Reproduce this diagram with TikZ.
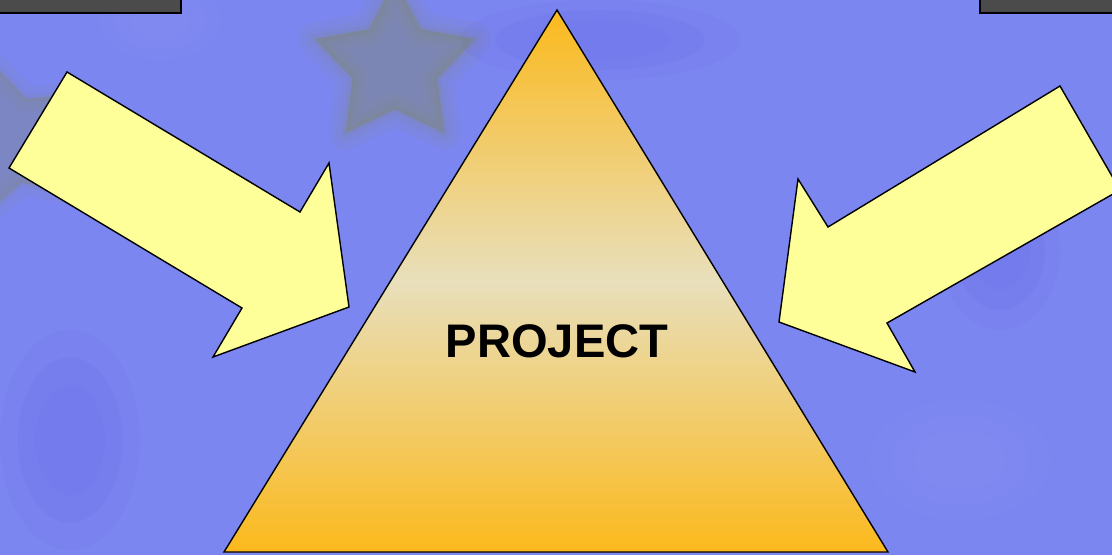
\documentclass[tikz,border=0pt]{standalone}
\usepackage{fontspec}
\setmainfont{Liberation Sans}
\usetikzlibrary{shapes.geometric}

\definecolor{bgblue}{RGB}{124,134,240}
\definecolor{bgdeep}{RGB}{106,108,232}
\definecolor{bglight}{RGB}{134,146,246}
\definecolor{starolive}{RGB}{128,136,90}
\definecolor{arrowyel}{RGB}{255,255,153}
\definecolor{triorange}{RGB}{251,185,28}
\definecolor{tripale}{RGB}{232,223,188}
\definecolor{bargray}{RGB}{75,75,75}

\begin{document}
\begin{tikzpicture}[
  x=0.025cm,y=-0.025cm,
  outline/.style={draw=black,line width=1pt,line join=miter},
  bigarrow/.style={outline,fill=arrowyel},
  bar/.style={outline,fill=bargray},
  faintstar/.style={star,star points=5,star point ratio=1.9,minimum size=4.2cm,inner sep=0pt,fill=starolive,draw=starolive,line join=round},
  patch/.style={fill=bgdeep,opacity=.15},
  glow/.style={fill=bglight,opacity=.15}
]
\useasboundingbox (0,0) rectangle (1112,555);
\clip (0,0) rectangle (1112,555);

% Background with soft patches and faint stars.
\fill[bgblue] (0,0) rectangle (1112,555);
\foreach \s in {1,.75,.5}{
  \fill[patch] (70,440) ellipse ({70*\s} and {110*\s});
  \fill[patch] (600,40) ellipse ({140*\s} and {40*\s});
  \fill[patch] (1000,250) ellipse ({60*\s} and {80*\s});
  \fill[glow] (160,20) ellipse ({60*\s} and {40*\s});
  \fill[glow] (960,460) ellipse ({90*\s} and {60*\s});
}
\node[faintstar,line width=24pt,opacity=.07] (starA) at (395,65) {};
\node[faintstar,line width=14pt,opacity=.08] (starB) at (395,65) {};
\node[faintstar,line width=6pt,opacity=.10] (starC) at (395,65) {};
\node[faintstar,opacity=.20] (starD) at (395,65) {};
\node[faintstar,rotate=15,line width=18pt,opacity=.07] (starE) at (10,140) {};
\node[faintstar,rotate=15,line width=6pt,opacity=.10] (starF) at (10,140) {};
\node[faintstar,rotate=15,opacity=.15] (starG) at (10,140) {};

% Gray bars at the top corners.
\draw[bar] (-10,-10) rectangle (181,13);
\draw[bar] (980,-10) rectangle (1125,13);

% Arrows pointing at the project.
\draw[bigarrow] (67,72) -- (300,212) -- (329,163) -- (349,307)
  -- (213,357) -- (242,308) -- (9,168) -- cycle;
\draw[bigarrow] (1060,86) -- (1120,190) -- (887,323) -- (915,372)
  -- (779,322) -- (798,179) -- (828,227) -- cycle;

% Triangle.
\shade[top color=triorange,bottom color=triorange,middle color=tripale]
  (557,10) -- (888,552) -- (224,552) -- cycle;
\draw[outline] (557,10) -- (888,552) -- (224,552) -- cycle;
\node[font=\fontsize{33.5}{40}\selectfont\bfseries] (project) at (557,341) {PROJECT};
\end{tikzpicture}
\end{document}
